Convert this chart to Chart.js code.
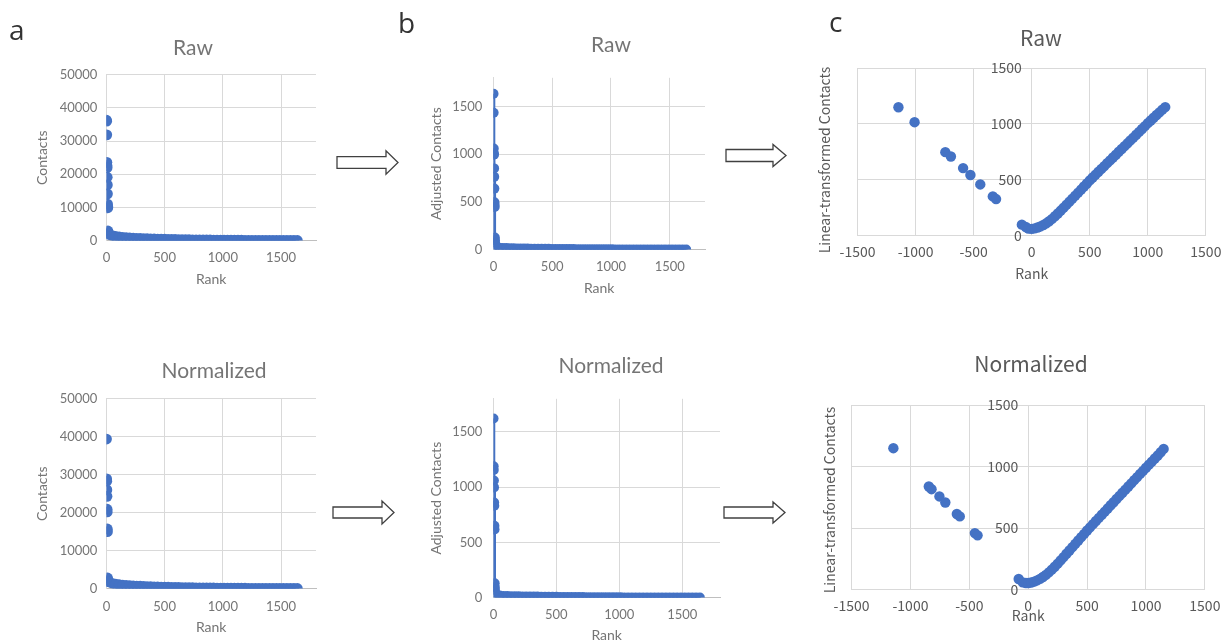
<!DOCTYPE html>
<html>
<head>
<meta charset="utf-8">
<script src="https://cdn.jsdelivr.net/npm/chart.js@4.4.1/dist/chart.umd.min.js"></script>
<style>
  body { margin: 0; width: 1228px; height: 641px; background: #fff; position: relative; overflow: hidden; }
  canvas { position: absolute; }
  svg { position: absolute; left: 0; top: 0; }
  .ttl { font-family: Lato, sans-serif; font-size: 21px; fill: #757575; }
  .ttlc { font-family: "Noto Sans CJK SC", sans-serif; font-size: 21px; fill: #595959; }
  .lab { font-family: "Open Sans", sans-serif; font-size: 28px; fill: #333; }
</style>
</head>
<body>
<canvas id="aRaw"></canvas>
<canvas id="aNorm"></canvas>
<canvas id="bRaw"></canvas>
<canvas id="bNorm"></canvas>
<canvas id="cRaw"></canvas>
<canvas id="cNorm"></canvas>

<svg width="1228" height="641">
  <text class="lab" x="9" y="40">a</text>
  <text class="lab" x="398" y="33">b</text>
  <text class="lab" x="829" y="32">c</text>

  <text class="ttl" x="193" y="55" text-anchor="middle">Raw</text>
  <text class="ttl" x="214" y="378" text-anchor="middle">Normalized</text>
  <text class="ttl" x="611" y="52" text-anchor="middle">Raw</text>
  <text class="ttl" x="611" y="373" text-anchor="middle">Normalized</text>
  <text class="ttlc" x="1041" y="46" text-anchor="middle">Raw</text>
  <text class="ttlc" x="1031" y="372" text-anchor="middle">Normalized</text>

  <text transform="translate(826,160) rotate(-90)" text-anchor="middle" dominant-baseline="middle"
        font-family="Noto Sans CJK SC, sans-serif" font-size="14" fill="#595959">Linear-transformed Contacts</text>
  <text transform="translate(831,500) rotate(-90)" text-anchor="middle" dominant-baseline="middle"
        font-family="Noto Sans CJK SC, sans-serif" font-size="14" fill="#595959">Linear-transformed Contacts</text>

  <g fill="#fff" stroke="#404040" stroke-width="1.3" stroke-linejoin="miter">
    <polygon points="337,156.7 386,156.7 386,150.8 398,162.5 386,174.2 386,168.3 337,168.3"/>
    <polygon points="333,507 382,507 382,501 394,512.5 382,524 382,518 333,518"/>
    <polygon points="726,149.5 773,149.5 773,144.5 786,155.5 773,166.5 773,161.5 726,161.5"/>
    <polygon points="724,507 773,507 773,502 785,512.5 773,523 773,518 724,518"/>
  </g>
</svg>

<script>
// ---------- data ----------
const topRankA = [1, 2, 3, 4, 5, 6, 7, 8, 9, 10, 11, 12, 13, 14, 15];
const rawTopA = [36300, 36000, 31900, 23600, 22600, 22000, 19100, 16800, 14100, 11000, 10300, 9900, 2900, 2400, 2100];
const normTopRankA = [1, 2, 3, 4, 5, 6, 7, 8, 9, 10, 11, 12];
const normTopA = [39400, 28900, 28300, 26000, 24300, 20900, 20200, 15700, 15000, 2800, 2300, 1900];

const tailRank = [20, 50, 80, 110, 140, 170, 200, 230, 260, 290, 320, 350, 380, 410, 440, 470, 500, 530,
  560, 590, 620, 650, 680, 710, 740, 770, 800, 830, 860, 890, 920, 950, 980, 1010, 1040, 1070, 1100,
  1130, 1160, 1190, 1220, 1250, 1280, 1310, 1340, 1370, 1400, 1430, 1460, 1490, 1520, 1550, 1580, 1610, 1640];
const rawTailA = [1900, 1500, 1250, 1080, 980, 900, 820, 760, 700, 650, 600, 560, 520, 490, 460, 430, 400, 375,
  350, 330, 310, 290, 272, 256, 240, 226, 212, 200, 188, 177, 166, 156, 147, 138, 130, 122, 114,
  107, 100, 94, 88, 82, 76, 71, 66, 61, 56, 52, 48, 44, 40, 36, 32, 28, 24];
const normTailA = [1800, 1400, 1180, 1030, 930, 850, 780, 720, 665, 615, 570, 530, 495, 465, 435, 408, 382, 358,
  336, 316, 297, 279, 262, 246, 231, 217, 204, 192, 181, 170, 160, 150, 141, 133, 125, 117, 110,
  103, 96, 90, 84, 78, 73, 68, 63, 58, 54, 50, 46, 42, 38, 34, 30, 26, 22];

const topRankB = [1, 2, 3, 4, 5, 6, 7, 8, 9, 10, 11, 12, 13, 14];
const rawTopB = [1632, 1434, 1060, 1010, 993, 851, 762, 639, 497, 470, 447, 126, 99, 73];
const normTopRankB = [1, 2, 3, 4, 5, 6, 7, 8, 9, 10, 11, 12];
const normTopB = [1621, 1190, 1156, 1061, 998, 860, 832, 651, 617, 129, 95, 70];
const rawTailB = [40, 20, 17, 15.5, 14.5, 13.5, 12.5, 12, 11, 10.5, 10, 9.5, 9, 8.5, 8, 7.6, 7.2, 6.8,
  6.4, 6, 5.7, 5.4, 5.1, 4.8, 4.5, 4.2, 3.9, 3.6, 3.4, 3.2, 3, 2.8, 2.6, 2.4, 2.2, 2, 1.9,
  1.8, 1.7, 1.6, 1.5, 1.4, 1.3, 1.2, 1.1, 1, 0.9, 0.8, 0.7, 0.6, 0.5, 0.4, 0.3, 0.2, 0.1];
const normTailB = [35, 18, 15.5, 14, 13, 12, 11.5, 11, 10.5, 10, 9.5, 9, 8.5, 8, 7.5, 7.1, 6.7, 6.3,
  6, 5.7, 5.4, 5.1, 4.8, 4.5, 4.2, 3.9, 3.6, 3.4, 3.2, 3, 2.8, 2.6, 2.4, 2.2, 2, 1.9, 1.8,
  1.7, 1.6, 1.5, 1.4, 1.3, 1.2, 1.1, 1, 0.9, 0.8, 0.7, 0.6, 0.5, 0.4, 0.3, 0.2, 0.1, 0];

const rawOffRankC = [-1148, -1009, -744, -696, -591, -528, -443, -335, -307, -85, -51, -28];
const rawOffC = [1149, 1015, 747, 708, 604, 542, 458, 351, 327, 98, 77, 62];
const normOffRankC = [-1145, -844, -821, -754, -704, -606, -581, -453, -430, -81, -47, -20];
const normOffC = [1149, 838, 816, 757, 708, 614, 595, 459, 441, 86, 59, 54];
const curveRankC = [0, 25, 50, 75, 100, 125, 150, 175, 200, 225, 250, 275, 300, 325, 350, 375, 400, 425,
  450, 475, 500, 525, 550, 575, 600, 625, 650, 675, 700, 725, 750, 775, 800, 825, 850, 875, 900, 925,
  950, 975, 1000, 1025, 1050, 1075, 1100, 1125, 1150];
const rawCurveC = [60, 65, 72, 82, 95, 110, 128, 150, 173, 198, 224, 250, 277, 304, 331, 358, 385, 412,
  439, 466, 494, 520, 546, 571, 597, 622, 648, 673, 699, 724, 750, 775, 801, 826, 852, 877, 903, 928,
  954, 980, 1006, 1030, 1055, 1079, 1103, 1127, 1150];
const normCurveC = [54, 58, 65, 75, 87, 102, 120, 140, 162, 186, 211, 237, 264, 291, 318, 345, 372, 399,
  426, 453, 480, 506, 532, 557, 583, 608, 634, 659, 685, 710, 736, 761, 787, 812, 838, 863, 889, 914,
  940, 965, 990, 1015, 1040, 1065, 1090, 1116, 1143];

const xTicksAB = [0, 500, 1000, 1500];
const yTicksA = [0, 10000, 20000, 30000, 40000, 50000];
const yTicksB = [0, 500, 1000, 1500];
const xTicksC = [-1500, -1000, -500, 0, 500, 1000, 1500];
const yTicksC = [0, 500, 1000, 1500];

// ---------- helpers ----------
const BLUE = '#4472C4';
function toXY(xs, ys) { return xs.map((x, i) => ({ x: x, y: ys[i] })); }

function panel(id, g, pts, o) {
  const c = document.getElementById(id);
  const titleLH = 14 * 1.2;
  const tickLH = o.tickSize * 1.2;
  const crossed = !!o.crossed;
  const left = crossed ? g.l - 22 : g.yTitleX - titleLH / 2;
  const right = g.r + (crossed ? 22 : 8);
  const top = g.t - 10;
  const bottom = g.xTitleY + titleLH / 2;
  c.width = Math.round(right - left);
  c.height = Math.round(bottom - top);
  c.style.left = left + 'px';
  c.style.top = top + 'px';

  const tickFont = { family: o.font, size: o.tickSize };
  const titleFont = { family: o.font, size: 14 };
  const plain = v => String(v);

  // in panel c the value labels sit just left of the x = 0 axis line
  const yScale = {
    type: 'linear',
    min: o.yMin, max: o.yMax,
    position: crossed ? { x: o.labelAt } : 'left',
    afterBuildTicks: s => { s.ticks = o.yTicks.map(v => ({ value: v })); },
    grid: { color: o.grid, drawTicks: false },
    border: { display: !crossed, color: o.grid },
    ticks: { font: tickFont, color: o.text, padding: crossed ? 0 : g.l - g.yLabelR, callback: plain },
    title: { display: !crossed, text: o.yTitle, font: titleFont, color: o.text, padding: 0 }
  };
  if (!crossed) yScale.afterFit = s => { s.width = g.l - left; };

  new Chart(c, {
    type: 'scatter',
    data: {
      datasets: [{
        data: pts,
        showLine: !!o.line,
        borderColor: BLUE,
        backgroundColor: BLUE,
        borderWidth: 3,
        pointBorderWidth: 0,
        pointRadius: o.r,
        pointHoverRadius: o.r
      }]
    },
    options: {
      responsive: false,
      animation: false,
      events: [],
      layout: { padding: { top: 10, bottom: 0, left: crossed ? 22 : 0, right: crossed ? 22 : 8 } },
      plugins: { legend: { display: false }, tooltip: { enabled: false } },
      scales: {
        x: {
          type: 'linear',
          min: o.xMin, max: o.xMax,
          afterBuildTicks: s => { s.ticks = o.xTicks.map(v => ({ value: v })); },
          afterFit: s => { s.height = bottom - g.b; },
          grid: { color: o.grid, drawTicks: false },
          border: { color: o.axis },
          ticks: { font: tickFont, color: o.text, padding: g.xLabelY - g.b - tickLH / 2, maxRotation: 0, callback: plain },
          title: { display: true, text: 'Rank', font: titleFont, color: o.text, padding: 0 }
        },
        y: yScale
      }
    }
  });
}

const styleAB = { font: 'Lato', tickSize: 13, text: '#757575', grid: '#D9D9D9', axis: '#BFBFBF' };
const styleC = { font: 'Noto Sans CJK SC', tickSize: 14, text: '#595959', grid: '#D9D9D9', axis: '#D9D9D9' };

panel('aRaw', { l: 106, r: 316, t: 68, b: 241, yLabelR: 97, yTitleX: 42, xLabelY: 258, xTitleY: 280 },
  toXY(topRankA.concat(tailRank), rawTopA.concat(rawTailA)),
  Object.assign({}, styleAB, { xMin: 0, xMax: 1800, yMin: 0, yMax: 50000, xTicks: xTicksAB, yTicks: yTicksA, yTitle: 'Contacts', r: 5.4 }));

panel('aNorm', { l: 106, r: 316, t: 392, b: 589, yLabelR: 97, yTitleX: 42, xLabelY: 607, xTitleY: 628 },
  toXY(normTopRankA.concat(tailRank), normTopA.concat(normTailA)),
  Object.assign({}, styleAB, { xMin: 0, xMax: 1800, yMin: 0, yMax: 50000, xTicks: xTicksAB, yTicks: yTicksA, yTitle: 'Contacts', r: 5.4 }));

panel('bRaw', { l: 493, r: 705, t: 69, b: 250, yLabelR: 482, yTitleX: 436, xLabelY: 267, xTitleY: 289 },
  toXY(topRankB.concat(tailRank), rawTopB.concat(rawTailB)),
  Object.assign({}, styleAB, { xMin: 0, xMax: 1800, yMin: 0, yMax: 1800, xTicks: xTicksAB, yTicks: yTicksB, yTitle: 'Adjusted Contacts', r: 5, line: true }));

panel('bNorm', { l: 493, r: 720, t: 390, b: 598, yLabelR: 482, yTitleX: 436, xLabelY: 615, xTitleY: 636 },
  toXY(normTopRankB.concat(tailRank), normTopB.concat(normTailB)),
  Object.assign({}, styleAB, { xMin: 0, xMax: 1800, yMin: 0, yMax: 1800, xTicks: xTicksAB, yTicks: yTicksB, yTitle: 'Adjusted Contacts', r: 5, line: true }));

panel('cRaw', { l: 854, r: 1207, t: 68, b: 236, xLabelY: 252, xTitleY: 274 },
  toXY(rawOffRankC.concat(curveRankC), rawOffC.concat(rawCurveC)),
  Object.assign({}, styleC, { crossed: true, labelAt: -85, xMin: -1500, xMax: 1500, yMin: 0, yMax: 1500, xTicks: xTicksC, yTicks: yTicksC, r: 5.2 }));

panel('cNorm', { l: 848, r: 1206, t: 405, b: 590, xLabelY: 606, xTitleY: 616 },
  toXY(normOffRankC.concat(curveRankC), normOffC.concat(normCurveC)),
  Object.assign({}, styleC, { crossed: true, labelAt: -84, xMin: -1500, xMax: 1500, yMin: 0, yMax: 1500, xTicks: xTicksC, yTicks: yTicksC, r: 5.2 }));
</script>
</body>
</html>
